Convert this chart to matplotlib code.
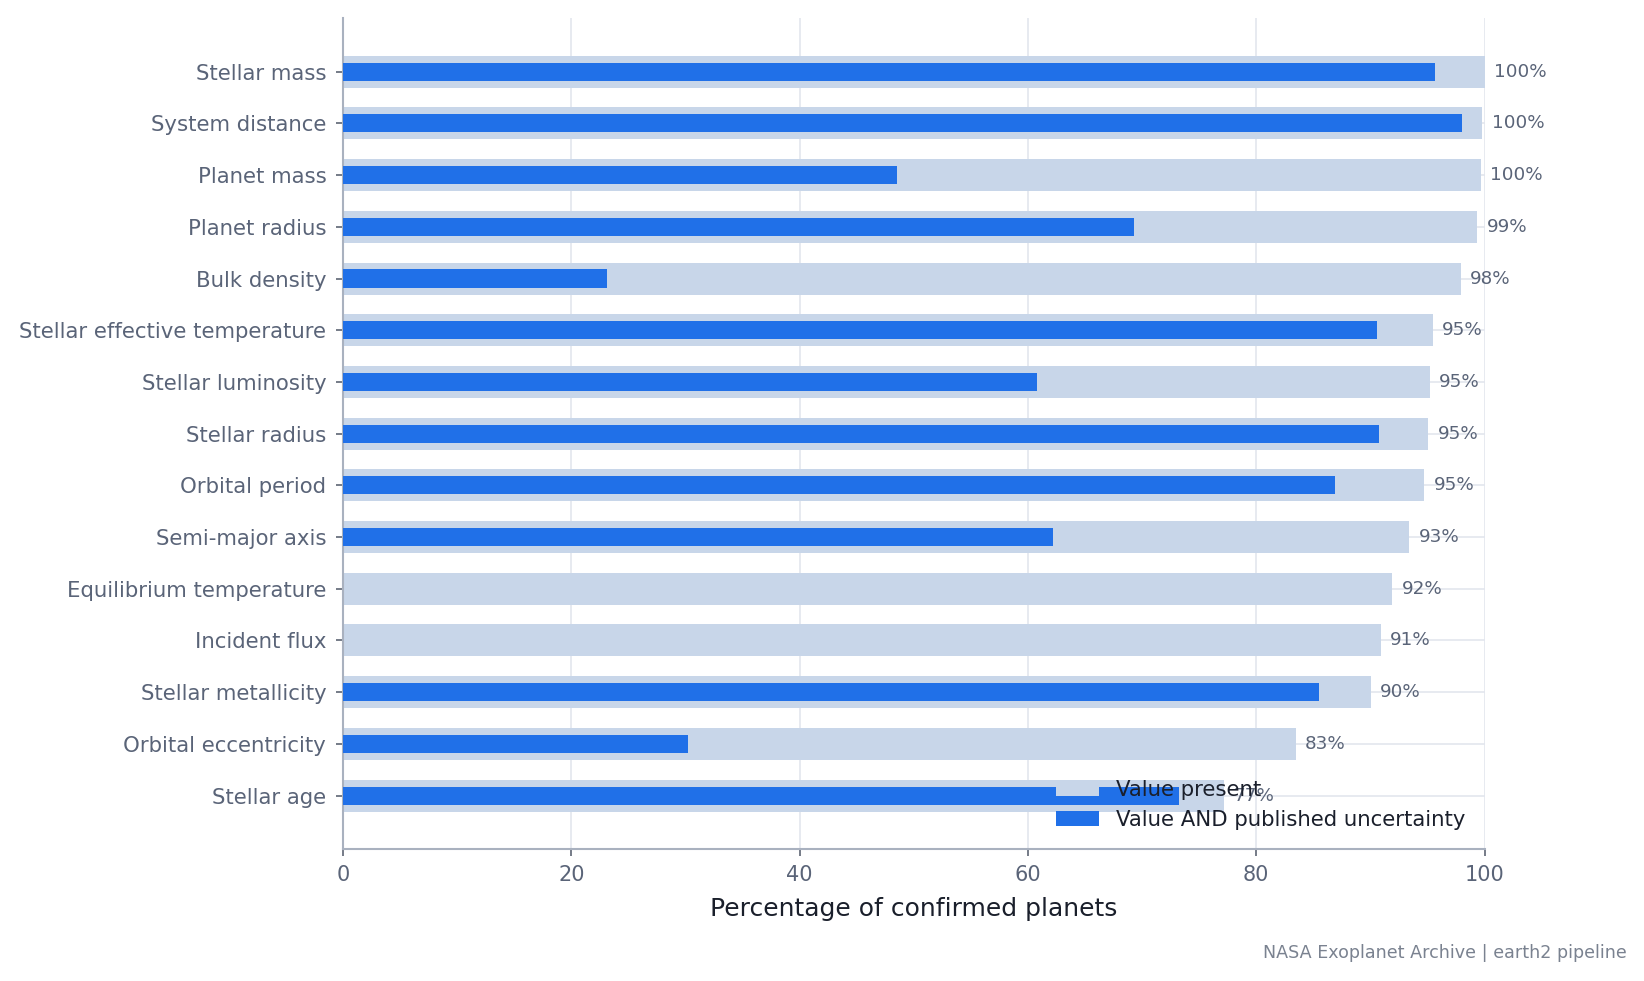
import numpy as np
import matplotlib
matplotlib.use("Agg")
import matplotlib.pyplot as plt

# parameters, top to bottom
fields = ["Stellar mass", "System distance", "Planet mass", "Planet radius",
          "Bulk density", "Stellar effective temperature", "Stellar luminosity",
          "Stellar radius", "Orbital period", "Semi-major axis",
          "Equilibrium temperature", "Incident flux", "Stellar metallicity",
          "Orbital eccentricity", "Stellar age"]

# % of confirmed planets with a value
pct_present = [100.0, 99.8, 99.7, 99.35, 97.9, 95.45, 95.2, 95.05, 94.7,
               93.4, 91.9, 90.9, 90.05, 83.45, 77.2]
# % with value AND published uncertainty
pct_with_err = [95.65, 98.0, 48.5, 69.3, 23.1, 90.6, 60.8, 90.75, 86.9,
                62.2, 0.0, 0.0, 85.5, 30.2, 73.2]

GRAY = "#c8d6e9"
BLUE = "#2070e8"
TXT = "#5a6478"

fig = plt.figure(figsize=(10.96, 6.54), dpi=150)
ax = fig.add_axes([0.2086, 0.1342, 0.6944, 0.8475])

y = np.arange(len(fields))
ax.barh(y, pct_present, height=0.62, color=GRAY, label="Value present", zorder=2)
ax.barh(y, pct_with_err, height=0.35, color=BLUE,
        label="Value AND published uncertainty", zorder=3)

for yi, v in zip(y, pct_present):
    ax.annotate(f"{v:.0f}%", (v, yi), xytext=(4.5, 0), textcoords="offset points",
                va="center", ha="left", fontsize=8.8, color=TXT, zorder=4)

ax.set_yticks(y)
ax.set_yticklabels(fields)
ax.set_ylim(len(fields) - 1 + 1.04, -1.04)
ax.set_xlim(0, 100)
ax.set_xticks([0, 20, 40, 60, 80, 100])

ax.set_axisbelow(True)
ax.grid(True, color="#e3e6ee", linewidth=0.8)

for s in ["top", "right"]:
    ax.spines[s].set_visible(False)
for s in ["left", "bottom"]:
    ax.spines[s].set_color("#a9b1bf")
    ax.spines[s].set_linewidth(1.0)

ax.tick_params(axis="y", labelsize=10.2, labelcolor=TXT, color="#5e6573", pad=4.5)
ax.tick_params(axis="x", labelsize=10, labelcolor=TXT, color="#5e6573", pad=4)

ax.set_xlabel("Percentage of confirmed planets", fontsize=12, color="#1a1f2b",
              labelpad=6)

leg = ax.legend(loc="lower right", frameon=False, fontsize=10.2)
for t in leg.get_texts():
    t.set_color("#1a1f2b")

fig.text(0.9893, 0.0285, "NASA Exoplanet Archive | earth2 pipeline",
         ha="right", va="center", fontsize=8.4, color="#7a8290")

fig.savefig("out.png", dpi=150)
